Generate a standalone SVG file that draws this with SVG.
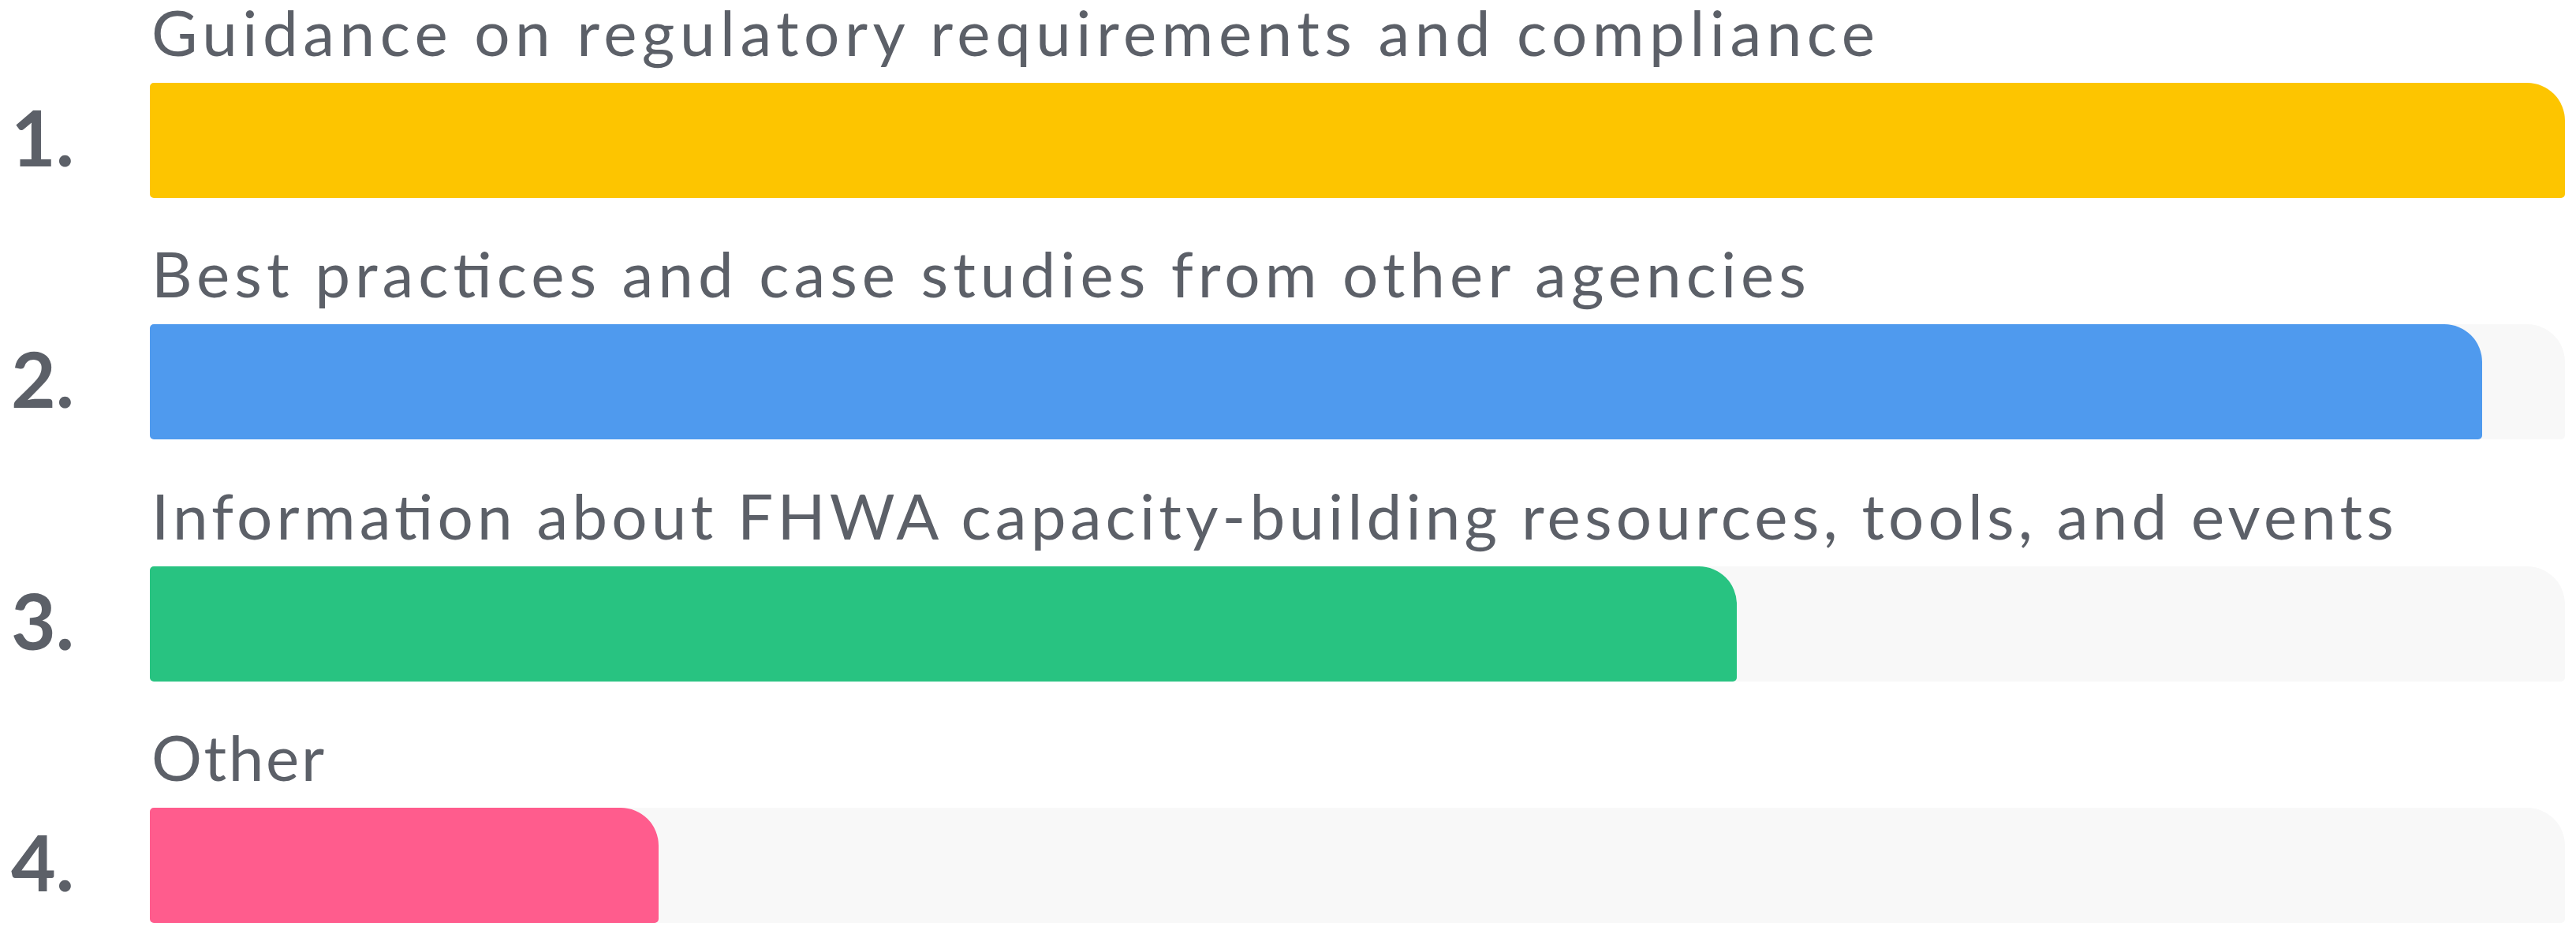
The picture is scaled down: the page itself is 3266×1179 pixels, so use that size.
<svg xmlns="http://www.w3.org/2000/svg" width="3266" height="1179" viewBox="0 0 3266 1179">
<defs>
<style>
.lbl{font-family:Lato,"Liberation Sans",sans-serif;font-size:80px;fill:#5C6068;}
.num{font-family:Lato,"Liberation Sans",sans-serif;font-size:98px;font-weight:700;fill:#5C6068;}
.track{fill:#F8F8F8;}
</style>
</defs>
<rect width="3266" height="1179" fill="#FFFFFF"/>
<g id="row1">
<text class="lbl" x="192" y="71" textLength="2185" lengthAdjust="spacing">Guidance on regulatory requirements and compliance</text>
<text class="num" x="14" y="211">1.</text>
<path class="track" d="M195,105 H3204 A48,48 0 0 1 3252,153 V246 A5,5 0 0 1 3247,251 H195 A5,5 0 0 1 190,246 V110 A5,5 0 0 1 195,105 Z"/>
<path fill="#FDC500" d="M195,105 H3204 A48,48 0 0 1 3252,153 V246 A5,5 0 0 1 3247,251 H195 A5,5 0 0 1 190,246 V110 A5,5 0 0 1 195,105 Z"/>
</g>
<g id="row2">
<text class="lbl" x="192" y="377" textLength="2098" lengthAdjust="spacing">Best practices and case studies from other agencies</text>
<text class="num" x="14" y="517">2.</text>
<path class="track" d="M195,411 H3204 A48,48 0 0 1 3252,459 V552 A5,5 0 0 1 3247,557 H195 A5,5 0 0 1 190,552 V416 A5,5 0 0 1 195,411 Z"/>
<path fill="#4F9AEE" d="M195,411 H3099 A48,48 0 0 1 3147,459 V552 A5,5 0 0 1 3142,557 H195 A5,5 0 0 1 190,552 V416 A5,5 0 0 1 195,411 Z"/>
</g>
<g id="row3">
<text class="lbl" x="192" y="684" textLength="2843" lengthAdjust="spacing">Information about FHWA capacity-building resources, tools, and events</text>
<text class="num" x="14" y="824">3.</text>
<path class="track" d="M195,718 H3204 A48,48 0 0 1 3252,766 V859 A5,5 0 0 1 3247,864 H195 A5,5 0 0 1 190,859 V723 A5,5 0 0 1 195,718 Z"/>
<path fill="#28C381" d="M195,718 H2154 A48,48 0 0 1 2202,766 V859 A5,5 0 0 1 2197,864 H195 A5,5 0 0 1 190,859 V723 A5,5 0 0 1 195,718 Z"/>
</g>
<g id="row4">
<text class="lbl" x="192" y="990" textLength="219" lengthAdjust="spacing">Other</text>
<text class="num" x="14" y="1130">4.</text>
<path class="track" d="M195,1024 H3204 A48,48 0 0 1 3252,1072 V1165 A5,5 0 0 1 3247,1170 H195 A5,5 0 0 1 190,1165 V1029 A5,5 0 0 1 195,1024 Z"/>
<path fill="#FF5C8D" d="M195,1024 H787 A48,48 0 0 1 835,1072 V1165 A5,5 0 0 1 830,1170 H195 A5,5 0 0 1 190,1165 V1029 A5,5 0 0 1 195,1024 Z"/>
</g>
<g id="connectors"></g>
</svg>
